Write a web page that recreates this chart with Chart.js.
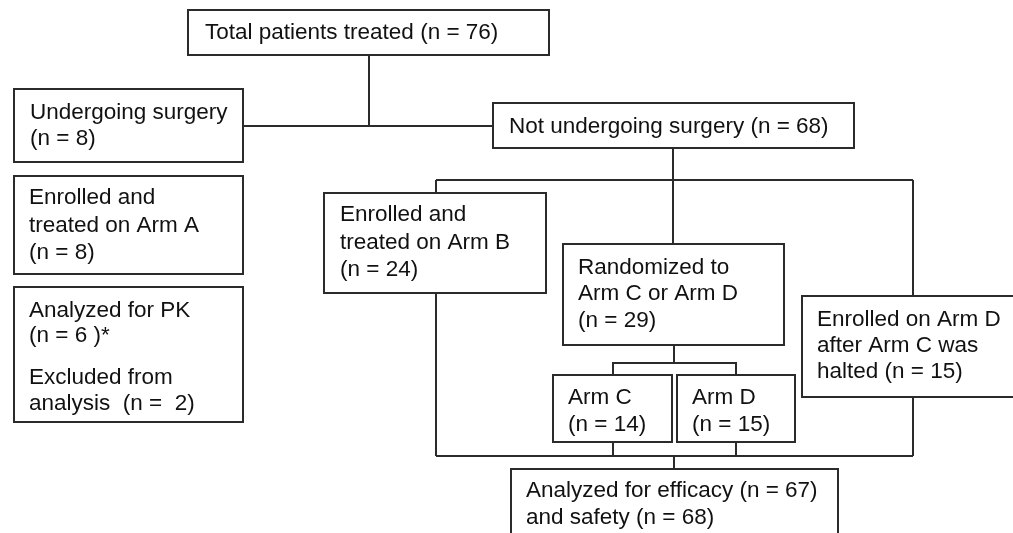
<!DOCTYPE html>
<html>
<head>
<meta charset="utf-8">
<script src="https://cdn.jsdelivr.net/npm/chart.js@4/dist/chart.umd.min.js"></script>
<style>
  html, body { margin: 0; padding: 0; background: #fff; }
  #wrap { width: 1013px; height: 533px; position: relative; }
</style>
</head>
<body>
<div id="wrap"><canvas id="flow"></canvas></div>
<script>
'use strict';

// Text of each stage, one entry per box
const nodeLines = [
	['Total patients treated (n = 76)'],
	['Undergoing surgery', '(n = 8)'],
	['Enrolled and', 'treated on Arm A', '(n = 8)'],
	['Analyzed for PK', '(n = 6 )*', 'Excluded from', 'analysis  (n =  2)'],
	['Not undergoing surgery (n = 68)'],
	['Enrolled and', 'treated on Arm B', '(n = 24)'],
	['Randomized to', 'Arm C or Arm D', '(n = 29)'],
	['Enrolled on Arm D', 'after Arm C was', 'halted (n = 15)'],
	['Arm C', '(n = 14)'],
	['Arm D', '(n = 15)'],
	['Analyzed for efficacy (n = 67)', 'and safety (n = 68)']
];

// Layout in scale units: [left, top, right, bottom]
const nodeBoxes = [
	[188, 10, 549, 55],
	[14, 89, 243, 162],
	[14, 176, 243, 274],
	[14, 287, 243, 422],
	[493, 103, 854, 148],
	[324, 193, 546, 293],
	[563, 244, 784, 345],
	[802, 296, 1022, 397],
	[553, 375, 672, 442],
	[677, 375, 795, 442],
	[511, 469, 838, 545]
];

// Text anchor: left x, then the centre y of every line
const nodeTextPos = [
	[205, [32]],
	[30, [112, 138]],
	[29, [197, 225, 252]],
	[29, [310, 335, 377, 403]],
	[509, [126]],
	[340, [214, 242, 269]],
	[578, [267, 293, 320]],
	[817, [319, 345, 371]],
	[568, [397, 424]],
	[692, [397, 424]],
	[526, [490, 517]]
];

// Connector polylines
const connectors = [
	[[369, 55], [369, 126]],
	[[243, 126], [493, 126]],
	[[673, 148], [673, 180]],
	[[436, 180], [913, 180]],
	[[436, 180], [436, 193]],
	[[673, 180], [673, 244]],
	[[913, 180], [913, 296]],
	[[674, 345], [674, 363]],
	[[613, 375], [613, 363], [736, 363], [736, 375]],
	[[436, 293], [436, 456]],
	[[436, 456], [913, 456]],
	[[913, 397], [913, 456]],
	[[613, 442], [613, 456]],
	[[736, 442], [736, 456]],
	[[674, 456], [674, 469]]
];

const lineColor = '#2b2b2b';
const textColor = '#111';

const boxPlugin = {
	id: 'boxes',
	afterDatasetsDraw(chart) {
		const ctx = chart.ctx;
		const xs = chart.scales.x;
		const ys = chart.scales.y;
		ctx.save();
		for (let i = 0; i < nodeBoxes.length; ++i) {
			const b = nodeBoxes[i];
			const x0 = xs.getPixelForValue(b[0]);
			const y0 = ys.getPixelForValue(b[1]);
			const x1 = xs.getPixelForValue(b[2]);
			const y1 = ys.getPixelForValue(b[3]);
			ctx.fillStyle = '#fff';
			ctx.fillRect(x0, y0, x1 - x0, y1 - y0);
			ctx.strokeStyle = lineColor;
			ctx.lineWidth = 2;
			ctx.strokeRect(x0, y0, x1 - x0, y1 - y0);

			ctx.fillStyle = textColor;
			ctx.font = '22.5px "Liberation Sans", Arial, sans-serif';
			ctx.textBaseline = 'middle';
			ctx.textAlign = 'left';
			const tp = nodeTextPos[i];
			for (let j = 0; j < nodeLines[i].length; ++j) {
				ctx.fillText(nodeLines[i][j], xs.getPixelForValue(tp[0]), ys.getPixelForValue(tp[1][j]) + 1);
			}
		}
		ctx.restore();
	}
};

let datasets = [];
for (let i = 0; i < connectors.length; ++i) {
	datasets.push({
		data: connectors[i].map(p => ({ x: p[0], y: p[1] })),
		showLine: true,
		borderColor: lineColor,
		borderWidth: 2,
		pointRadius: 0,
		fill: false,
		tension: 0
	});
}

const flowChart = new Chart(document.getElementById('flow'), {
	type: 'scatter',
	data: { datasets: datasets },
	options: {
		responsive: true,
		maintainAspectRatio: false,
		animation: false,
		layout: { padding: 0 },
		plugins: {
			legend: { display: false },
			tooltip: { enabled: false }
		},
		scales: {
			x: { type: 'linear', min: 0, max: 1013, display: false },
			y: { type: 'linear', min: 0, max: 533, reverse: true, display: false }
		}
	},
	plugins: [boxPlugin]
});
</script>
</body>
</html>
